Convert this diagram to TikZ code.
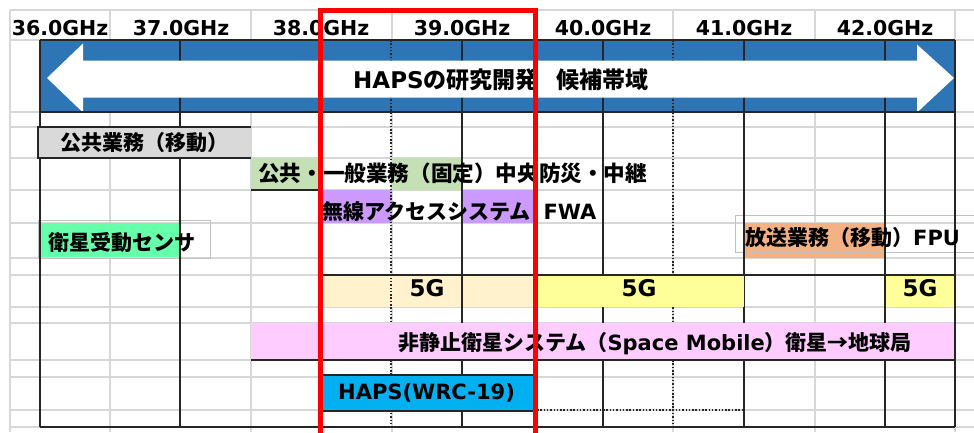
\documentclass[tikz,border=0pt]{standalone}
\usepackage{fontspec}
\setmainfont{DejaVu Sans}
\newfontfamily\jp{Noto Sans CJK JP}
\definecolor{bandblue}{RGB}{46,117,182}
\definecolor{gridgray}{RGB}{215,215,215}
\definecolor{boxgray}{RGB}{217,217,217}
\definecolor{fixgreen}{RGB}{197,224,180}
\definecolor{fwapurple}{RGB}{204,153,255}
\definecolor{mint}{RGB}{102,255,170}
\definecolor{fpuorange}{RGB}{244,177,131}
\definecolor{peach}{RGB}{255,242,204}
\definecolor{lightyellow}{RGB}{255,255,153}
\definecolor{lightpink}{RGB}{255,204,255}
\definecolor{hapscyan}{RGB}{0,176,240}
\begin{document}
\begin{tikzpicture}[x=1pt,y=-1pt,
  gridline/.style={draw=gridgray,line width=1.2pt},
  blackline/.style={draw=black!85,line width=1.2pt},
  dotline/.style={draw=black!85,line width=1.2pt,dash pattern=on 1.5pt off 1.8pt},
  tbox/.style={draw=gridgray!90!black,line width=1pt},
  txt/.style={inner sep=0pt,anchor=base west,font=\bfseries\fontsize{21}{21}\selectfont},
  hdr/.style={inner sep=0pt,anchor=base,font=\bfseries\fontsize{20.5}{20.5}\selectfont},
  fiveg/.style={inner sep=0pt,anchor=base,font=\bfseries\fontsize{23}{23}\selectfont}]
\useasboundingbox (0,0) rectangle (974,432);
\fill[white] (0,0) rectangle (974,432);
% spreadsheet grid
\foreach \y in {10,40,112,127,158,190,223,258,275,307,323,360,377,410,427}
  \draw[gridline] (10,\y) -- (974,\y);
\foreach \x in {10,110,251,392,537,673,815,955}
  \draw[gridline] (\x,10) -- (\x,432);
% band and coloured cells under the frame lines
\fill[bandblue] (40,40) rectangle (955,112);
\fill[mint] (38,223) rectangle (180,257);
\fill[fpuorange] (745,223) rectangle (884,258);
\fill[fixgreen] (251,158) rectangle (320,190);
\fill[fixgreen] (392,158) rectangle (462,190);
\fill[fwapurple] (322,190) rectangle (392,223);
\fill[fwapurple] (462,190) rectangle (534,223);
\fill[peach] (322,275) rectangle (535,307);
% text boxes
\draw[tbox] (38,220) rectangle (210,258);
\draw[tbox] (974,215) -- (735,215) -- (735,252) -- (974,252);
% frame lines
\foreach \x in {40,180,462,603,744,885,955}
  \draw[blackline] (\x,40) -- (\x,427);
\foreach \x in {391,673}
  \draw[dotline] (\x,40) -- (\x,427);
\draw[blackline] (40,40) -- (955,40);
\draw[blackline] (40,427) -- (955,427);
\draw[blackline] (251,190) -- (320,190);
\draw[dotline] (537,410) -- (744,410);
% white double arrow
\fill[white] (47,78) -- (83,43.5) -- (83,60.5) -- (917,60.5) -- (917,44.5) -- (954,78)
  -- (917,112.5) -- (917,97.5) -- (83,97.5) -- (83,112.5) -- cycle;
\draw[blackline] (40,112) -- (955,112);
% covering bars
\fill[lightyellow] (537,275) rectangle (744,307);
\fill[lightyellow] (885.6,275) rectangle (954.4,307);
\draw[blackline] (320,275) -- (955,275);
\fill[boxgray] (38,127) rectangle (251,158);
\draw[blackline] (251,127) -- (38,127) -- (38,158) -- (251,158);
\fill[lightpink] (251,323) rectangle (955,360);
\draw[blackline] (251,360) -- (955,360);
\draw[blackline] (955,323) -- (955,360);
\filldraw[fill=hapscyan,blackline] (322,375) rectangle (534,411);
% header labels
\node[hdr] (f36) at (60,35) {36.0GHz};
\node[hdr] (f37) at (181,35) {37.0GHz};
\node[hdr] (f38) at (321,35) {38.0GHz};
\node[hdr] (f39) at (462,35) {39.0GHz};
\node[hdr] (f40) at (603,35) {40.0GHz};
\node[hdr] (f41) at (744,35) {41.0GHz};
\node[hdr] (f42) at (885,35) {42.0GHz};
% texts
\node[txt,font=\bfseries\fontsize{23}{23}\selectfont] (band) at (353,88.5)
  {HAPS{\jp の研究開発}\hspace{18pt}{\jp 候補帯域}};
\node[txt] (mobile) at (60,150.5) {\jp 公共業務（移動）};
\node[txt,font=\bfseries\fontsize{21.6}{21.6}\selectfont] (fixed) at (258,181.5) {\jp 公共・一般業務（固定）中央防災・中継};
\node[txt] (fwa) at (322,219.5) {{\jp 無線アクセスシステム}\hspace{13pt}FWA};
\node[txt] (sensor) at (48,250) {\jp 衛星受動センサ};
\node[txt] (fpu) at (745,245) {{\jp 放送業務（移動）}FPU};
\node[fiveg] (g1) at (427,296.4) {5G};
\node[fiveg] (g2) at (639,296.4) {5G};
\node[fiveg] (g3) at (920,296.4) {5G};
\node[txt] (ngso) at (398,350) {{\jp 非静止衛星システム（}Space Mobile{\jp ）衛星→地球局}};
\node[txt] (haps) at (338,399.6) {HAPS(WRC-19)};
% red frame
\draw[red,line width=4.5pt] (320.5,10.5) rectangle (535.5,445);
\end{tikzpicture}
\end{document}
